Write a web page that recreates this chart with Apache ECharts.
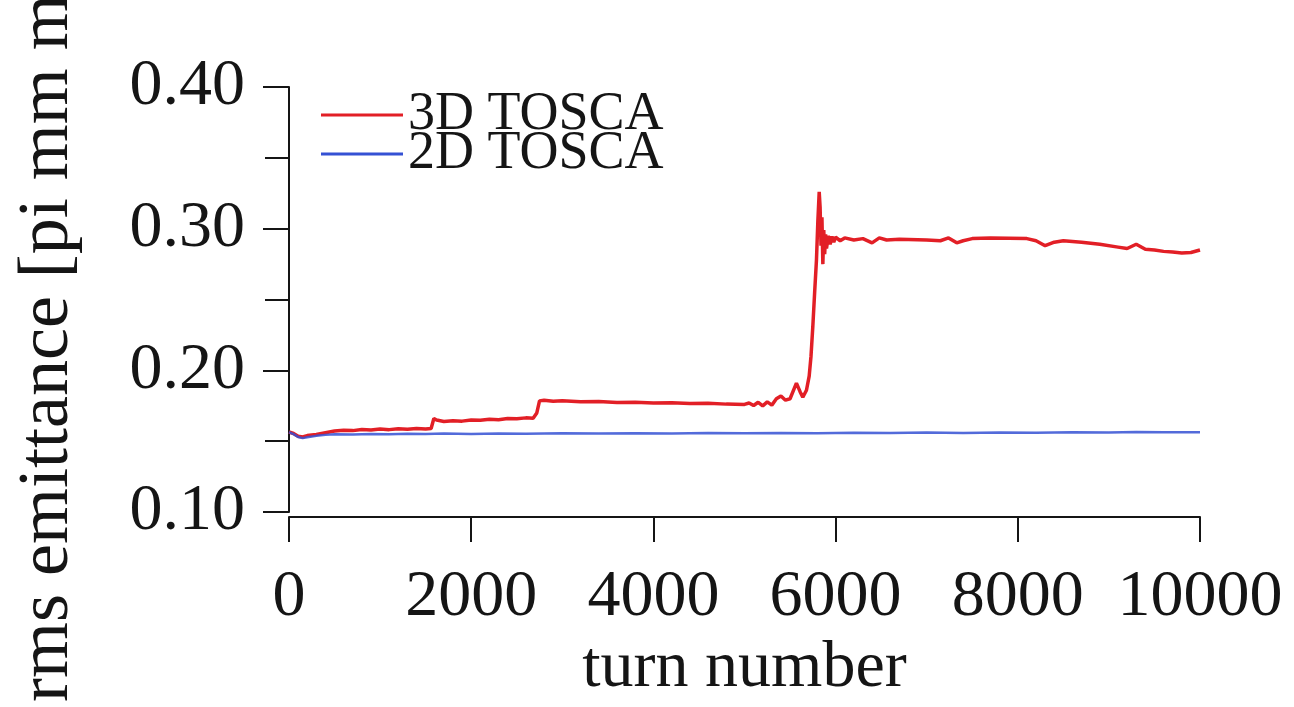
<!DOCTYPE html>
<html>
<head>
<meta charset="utf-8">
<title>rms emittance vs turn number</title>
<script src="https://cdn.jsdelivr.net/npm/echarts@6/dist/echarts.min.js"></script>
<style>
  html, body { margin: 0; padding: 0; background: #fff; }
  #chart { width: 1294px; height: 707px; }
</style>
</head>
<body>
<div id="chart"></div>
<script>
// 3D TOSCA (red)
var redTurns = [0, 50, 100, 150, 200, 300, 400, 500, 600, 700, 800, 900, 1000, 1100, 1200, 1300, 1400, 1500, 1560,
  1590, 1620, 1700, 1800, 1900, 2000, 2100, 2200, 2300, 2400, 2500, 2600, 2680,
  2720, 2750, 2800, 2900, 3000, 3200, 3400, 3600, 3800, 4000, 4200, 4400, 4600, 4800, 5000,
  5050, 5100, 5150, 5200, 5250, 5300, 5350, 5400, 5450, 5500, 5570, 5610, 5640, 5680,
  5710, 5730, 5750, 5770, 5790, 5805, 5820, 5830, 5840, 5850, 5860, 5870, 5880, 5890, 5900,
  5920, 5940, 5960, 5980, 6000, 6050, 6100, 6200, 6300, 6400, 6480, 6560, 6700, 7000, 7150,
  7240, 7330, 7400, 7500, 7700, 7900, 8100, 8200, 8300, 8400, 8500, 8700, 8900, 9100, 9200,
  9300, 9400, 9500, 9600, 9700, 9800, 9900, 10000];
var redValues = [0.1565, 0.1555, 0.1535, 0.1530, 0.1540, 0.1548, 0.1560, 0.1572, 0.1578, 0.1575, 0.1583, 0.1580, 0.1586, 0.1582, 0.1588, 0.1584, 0.1590, 0.1586, 0.1590,
  0.1660, 0.1650, 0.1640, 0.1645, 0.1642, 0.1650, 0.1648, 0.1655, 0.1652, 0.1660, 0.1658, 0.1665, 0.1662,
  0.1700, 0.1785, 0.1790, 0.1782, 0.1785, 0.1778, 0.1780, 0.1774, 0.1776, 0.1770, 0.1772, 0.1766, 0.1768, 0.1762, 0.1760,
  0.1770, 0.1752, 0.1775, 0.1750, 0.1778, 0.1755, 0.1800, 0.1820, 0.1790, 0.1800, 0.1910, 0.1850, 0.1810, 0.1860,
  0.1960, 0.2100, 0.2310, 0.2550, 0.2780, 0.3050, 0.3260, 0.3150, 0.2880, 0.3080, 0.2750, 0.2990, 0.2820, 0.2960, 0.2860,
  0.2950, 0.2890, 0.2945, 0.2905, 0.2940, 0.2915, 0.2935, 0.2920, 0.2930, 0.2900, 0.2935, 0.2920, 0.2925, 0.2920, 0.2915,
  0.2935, 0.2900, 0.2915, 0.2930, 0.2935, 0.2933, 0.2930, 0.2915, 0.2880, 0.2905, 0.2915, 0.2905, 0.2890, 0.2870, 0.2860,
  0.2890, 0.2855, 0.2850, 0.2840, 0.2835, 0.2828, 0.2832, 0.2850];

// 2D TOSCA (blue)
var blueTurns = [0, 50, 100, 150, 200, 300, 400, 500, 700, 900, 1100, 1300, 1500, 1700, 2000, 2300, 2600, 3000,
  3400, 3800, 4200, 4600, 5000, 5400, 5800, 6200, 6600, 7000, 7400, 7800, 8200, 8600, 9000, 9300, 9600, 10000];
var blueValues = [0.1565, 0.1550, 0.1530, 0.1522, 0.1528, 0.1538, 0.1545, 0.1550, 0.1548, 0.1552, 0.1550, 0.1553, 0.1551, 0.1554, 0.1552, 0.1555, 0.1553, 0.1556,
  0.1554, 0.1557, 0.1555, 0.1558, 0.1556, 0.1559, 0.1557, 0.1560, 0.1558, 0.1561, 0.1559, 0.1562, 0.1560, 0.1563, 0.1561, 0.1566, 0.1563, 0.1564];

var seriesNames = ['3D TOSCA', '2D TOSCA'];
var xTicks = [0, 2000, 4000, 6000, 8000, 10000];
var yTicks = [0.10, 0.20, 0.30, 0.40];

function pairs(xs, ys) {
  return xs.map(function (x, i) { return [x, ys[i]]; });
}

var font = '"Liberation Serif", "DejaVu Serif", serif';
var ink = '#151515';

var myChart = echarts.init(document.getElementById('chart'));
var option = {
  backgroundColor: '#fff',
  animation: false,
  grid: { left: 289, right: 94, top: 87, bottom: 190 },
  legend: {
    orient: 'vertical',
    left: 316,
    top: 83,
    itemWidth: 82,
    itemHeight: 3,
    itemGap: -15,
    icon: 'rect',
    textStyle: { fontFamily: font, fontSize: 54, color: ink },
    data: seriesNames
  },
  xAxis: {
    type: 'value',
    min: xTicks[0],
    max: xTicks[xTicks.length - 1],
    interval: 2000,
    offset: 5,
    name: 'turn number',
    nameLocation: 'middle',
    nameGap: 98,
    nameTextStyle: { fontFamily: font, fontSize: 66, color: ink },
    axisLine: { lineStyle: { color: ink, width: 2 } },
    axisTick: { length: 25, lineStyle: { color: ink, width: 2 } },
    axisLabel: {
      fontFamily: font, fontSize: 66, color: ink, margin: 48,
      formatter: function (v) { return String(v); }
    },
    splitLine: { show: false }
  },
  yAxis: {
    type: 'value',
    min: yTicks[0],
    max: yTicks[yTicks.length - 1],
    interval: 0.1,
    offset: 5,
    axisLine: { show: true, lineStyle: { color: ink, width: 2 } },
    axisTick: { show: true, length: 26, lineStyle: { color: ink, width: 2 } },
    minorTick: { show: true, splitNumber: 2, length: 24, lineStyle: { color: ink, width: 2 } },
    axisLabel: {
      fontFamily: font, fontSize: 66, color: ink, margin: 39,
      formatter: function (v) { return v.toFixed(2); }
    },
    splitLine: { show: false }
  },
  graphic: [{
    type: 'text',
    x: 48,
    y: 702,
    rotation: Math.PI / 2,
    style: {
      text: 'rms emittance [pi mm mrad]',
      fontFamily: font,
      fontSize: 72,
      fill: ink,
      align: 'left',
      verticalAlign: 'middle'
    }
  }],
  series: [
    {
      name: seriesNames[0],
      type: 'line',
      data: pairs(redTurns, redValues),
      showSymbol: false,
      symbol: 'none',
      color: '#e21f26',
      lineStyle: { color: '#e21f26', width: 3.5 }
    },
    {
      name: seriesNames[1],
      type: 'line',
      data: pairs(blueTurns, blueValues),
      showSymbol: false,
      symbol: 'none',
      color: '#3551d4',
      lineStyle: { color: '#3551d4', width: 2.5, opacity: 0.85 }
    }
  ]
};
option && myChart.setOption(option);
</script>
</body>
</html>
